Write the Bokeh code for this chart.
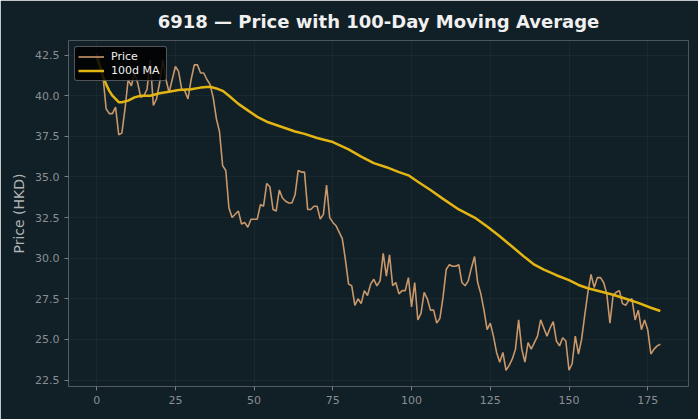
from bokeh.plotting import figure
from bokeh.models import Range1d, FixedTicker, Legend, LegendItem, ColumnDataSource, NumeralTickFormatter
from bokeh.embed import file_html
from bokeh.resources import INLINE

# ---- data ----
price = [
    42.6, 42.0, 41.2, 39.2, 38.9, 38.9, 39.3, 37.6, 37.7, 39.2,
    41.0, 40.6, 41.4, 40.8, 39.9, 40.0, 40.4, 42.2, 39.4, 39.8,
    40.8, 42.2, 41.0, 40.2, 41.0, 41.8, 41.5, 40.4, 40.3, 39.8,
    41.0, 41.9, 41.9, 41.4, 41.4, 41.0, 40.7, 39.9, 38.6, 37.8,
    35.7, 35.4, 33.1, 32.5, 32.7, 32.9, 32.1, 32.2, 31.9, 32.4,
    32.4, 32.4, 33.3, 33.2, 34.6, 34.4, 33.0, 32.9, 34.2, 33.7,
    33.5, 33.4, 33.4, 33.9, 35.4, 35.3, 35.3, 33.0, 33.0, 33.2,
    33.2, 32.4, 32.7, 34.5, 32.5, 32.2, 32.0, 31.6, 31.2, 29.9,
    28.4, 28.3, 27.1, 27.5, 27.2, 28.0, 27.7, 28.4, 28.7, 28.3,
    28.6, 30.3, 28.9, 30.2, 28.3, 28.5, 27.8, 28.0, 28.0, 28.8,
    27.0, 28.5, 26.2, 26.6, 27.9, 27.5, 26.8, 26.8, 26.0, 26.3,
    27.6, 29.3, 29.6, 29.5, 29.5, 29.6, 28.5, 28.3, 28.6, 29.4,
    30.1, 28.5, 27.8, 26.8, 25.6, 26.0, 25.2, 24.2, 23.6, 24.2,
    23.1, 23.4, 23.8, 24.4, 26.2, 24.4, 23.6, 24.8, 24.4, 24.8,
    25.2, 26.2, 25.7, 25.2, 25.7, 26.1, 24.9, 24.6, 25.1, 24.9,
    23.1, 23.5, 25.2, 24.1, 25.0, 26.5, 27.9, 29.0, 28.2, 28.8,
    28.8, 28.5, 27.8, 26.0, 27.7, 27.9, 28.0, 27.2, 27.1, 27.4,
    27.5, 26.2, 26.8, 25.6, 26.2, 25.6, 24.1, 24.4, 24.6, 24.7,
]
days = list(range(len(price)))

ma_days = [0, 1, 2, 3, 4, 5, 6, 7, 8, 10, 12, 14, 17, 20, 23, 26, 30, 33, 36, 38,
           40, 42, 45, 48, 51, 54, 57, 60, 63, 66, 70, 75, 80, 84, 88, 92, 96, 99,
           102, 106, 110, 115, 120, 124, 128, 132, 136, 139, 142, 146, 150, 153,
           156, 160, 164, 168, 172, 176, 179]
ma_vals = [42.4, 41.8, 41.2, 40.7, 40.3, 40.0, 39.8, 39.6, 39.6, 39.7, 39.9, 40.0,
           40.0, 40.15, 40.25, 40.35, 40.4, 40.5, 40.55, 40.45, 40.3, 40.0, 39.5,
           39.1, 38.7, 38.4, 38.2, 38.0, 37.8, 37.65, 37.4, 37.15, 36.7, 36.25,
           35.85, 35.6, 35.3, 35.1, 34.7, 34.2, 33.65, 33.0, 32.5, 31.95, 31.35,
           30.7, 30.05, 29.6, 29.3, 28.95, 28.65, 28.35, 28.15, 27.95, 27.75,
           27.5, 27.25, 26.95, 26.75]

x_ticks = [0, 25, 50, 75, 100, 125, 150, 175]
y_ticks = [22.5, 25.0, 27.5, 30.0, 32.5, 35.0, 37.5, 40.0, 42.5]

title_text = "6918 \u2014 Price with 100-Day Moving Average"
y_label = "Price (HKD)"

# ---- style ----
BG = "#111f27"
FONT = "DejaVu Sans"

p = figure(width=698, height=419, output_backend="svg", toolbar_location=None,
           x_range=Range1d(-8.95, 187.95), y_range=Range1d(22.1, 43.4),
           title=title_text)
p.background_fill_color = BG
p.border_fill_color = BG
p.outline_line_color = None
p.min_border_left = 68
p.min_border_right = 10
p.min_border_top = 40
p.min_border_bottom = 33

p.title.align = "center"
p.title.text_font = FONT
p.title.text_font_style = "bold"
p.title.text_font_size = "18px"
p.title.text_color = "#f0f0f0"
p.title.standoff = 17

for ax in (p.xaxis[0], p.yaxis[0]):
    ax.axis_line_color = "#555b60"
    ax.major_tick_line_color = "#777d80"
    ax.major_tick_out = 4
    ax.major_tick_in = 0
    ax.minor_tick_line_color = None
    ax.major_label_text_color = "#8a8f92"
    ax.major_label_text_font = FONT
    ax.major_label_text_font_size = "11px"

p.xaxis.ticker = FixedTicker(ticks=x_ticks)
p.yaxis.ticker = FixedTicker(ticks=y_ticks)
p.yaxis.formatter = NumeralTickFormatter(format="0.0")
p.yaxis.axis_label = y_label
p.yaxis.axis_label_text_font = FONT
p.yaxis.axis_label_text_font_style = "normal"
p.yaxis.axis_label_text_font_size = "14px"
p.yaxis.axis_label_text_color = "#b0b4b6"

p.xgrid.grid_line_color = "#ffffff"
p.xgrid.grid_line_alpha = 0.04
p.ygrid.grid_line_color = "#ffffff"
p.ygrid.grid_line_alpha = 0.04

src_p = ColumnDataSource(dict(x=days, y=price))
src_m = ColumnDataSource(dict(x=ma_days, y=ma_vals))
r1 = p.line("x", "y", source=src_p, line_color="#c8976a", line_width=1.6)
r2 = p.line("x", "y", source=src_m, line_color="#e3b512", line_width=2.5)

legend = Legend(items=[LegendItem(label="Price", renderers=[r1]),
                       LegendItem(label="100d MA", renderers=[r2])],
                location="top_left")
legend.margin = 6
legend.padding = 3
legend.spacing = 1
legend.glyph_width = 26
legend.glyph_height = 13
legend.label_width = 52
legend.label_text_font = FONT
legend.label_text_font_size = "11px"
legend.label_text_color = "#f0f0f0"
legend.label_standoff = 7
legend.background_fill_color = "#000000"
legend.background_fill_alpha = 0.85
legend.border_line_color = "#a0a6aa"
legend.border_line_width = 1
try:
    legend.border_radius = 3
except Exception:
    pass
p.add_layout(legend)

open("out.html", "w").write(file_html(p, INLINE))
